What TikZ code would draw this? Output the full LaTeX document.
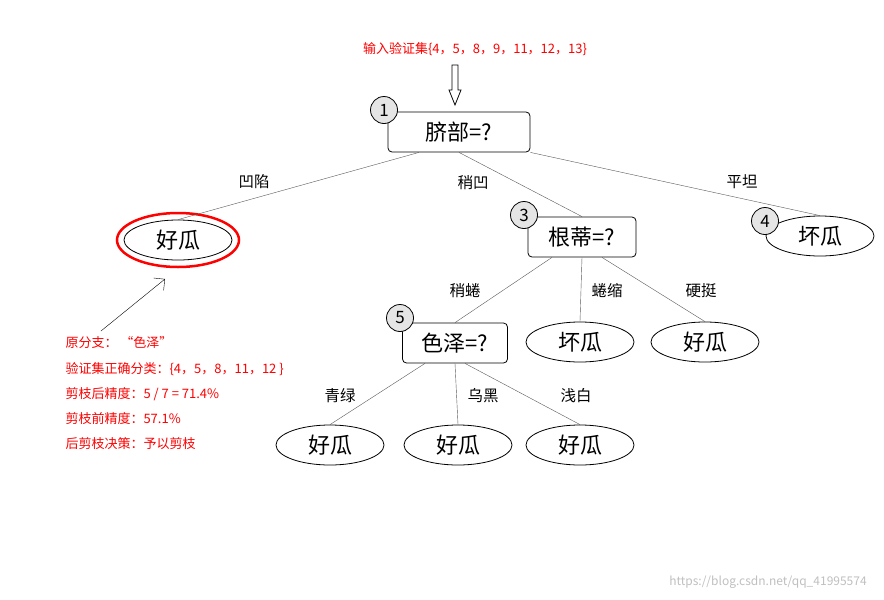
\documentclass[tikz,border=0pt]{standalone}
\usepackage{fontspec}
\setmainfont{Noto Sans CJK SC}
\usetikzlibrary{arrows.meta,shapes.geometric}
\begin{document}
\begin{tikzpicture}[x=1pt,y=-1pt,
 q/.style={draw,rounded corners=4pt,thick,minimum width=#1,minimum height=40pt,font=\fontsize{22}{24}\selectfont,inner sep=1pt},
 leaf/.style={draw,ellipse,thick,minimum width=108pt,minimum height=40pt,font=\fontsize{22}{24}\selectfont,inner sep=1pt},
 num/.style={draw,circle,fill=gray!20,thick,minimum size=27pt,inner sep=0pt,font=\fontsize{17}{18}\selectfont},
 el/.style={font=\fontsize{15.5}{17}\selectfont},
 red/.style={text=red,font=\fontsize{13}{15}\selectfont,anchor=west},
 e/.style={gray!70!black}]
\useasboundingbox (0,0) rectangle (884,600);
\node[q=142pt] (n1) at (459,132) {脐部=?};
\node[num] (c1) at (384,110) {1};
\node[leaf] (l1) at (178,240) {好瓜};
\node[draw=red,ellipse,line width=2.5pt,minimum width=122pt,minimum height=54pt] (r1) at (178,240) {};
\node[q=108pt] (n3) at (582,237) {根蒂=?};
\node[num] (c3) at (524,215) {3};
\node[leaf] (l4) at (820,236) {坏瓜};
\node[num] (c4) at (765,221) {4};
\node[q=105pt] (n5) at (455,343) {色泽=?};
\node[num] (c5) at (400,318) {5};
\node[leaf] (l6) at (580,342) {坏瓜};
\node[leaf] (l7) at (705,342) {好瓜};
\node[leaf] (l8) at (330,445) {好瓜};
\node[leaf] (l9) at (458,445) {好瓜};
\node[leaf] (l10) at (580,445) {好瓜};
\draw[e] (n1.south) ++(-40,0) coordinate (a) -- (l1.north);
\draw[e] (n1.south) -- (n3.north);
\draw[e] (n1.south east) -- (l4.north);
\draw[e] (n3.south) ++(-30,0) -- (n5.north);
\draw[e] (n3.south) -- (l6.north);
\draw[e] (n3.south) ++(20,0) -- (l7.north);
\draw[e] (n5.south) ++(-30,0) -- (l8.north);
\draw[e] (n5.south) -- (l9.north);
\draw[e] (n5.south) ++(10,0) -- (l10.north);
\node[el] (t1) at (254,182) {凹陷};
\node[el] (t2) at (473,183) {稍凹};
\node[el] (t3) at (742,182) {平坦};
\node[el] (t4) at (465,291) {稍蜷};
\node[el] (t5) at (607,291) {蜷缩};
\node[el] (t6) at (701,291) {硬挺};
\node[el] (t7) at (340,396) {青绿};
\node[el] (t8) at (483,396) {乌黑};
\node[el] (t9) at (576,396) {浅白};
\node[text=red,font=\fontsize{13}{15}\selectfont] (top) at (475,49) {输入验证集\{4，5，8，9，11，12，13\}};
\draw[red,line width=0.8pt] (452,65) -- (458,65) -- (458,90) -- (461,90) -- (455,105) -- (449,90) -- (452,90) -- cycle;
\coordinate (ann) at (101,331);
\draw[red,-{Straight Barb[length=8pt]}] (ann) -- (165,279);
\node[red] (a1) at (62,343) {原分支：\ “色泽”};
\node[red] (a2) at (62,369) {验证集正确分类：\{4，5，8，11，12 \}};
\node[red] (a3) at (62,394) {剪枝后精度：5 / 7 = 71.4\%};
\node[red] (a4) at (62,419) {剪枝前精度：57.1\%};
\node[red] (a5) at (62,444) {后剪枝决策：予以剪枝};
\node[text=gray!50,font=\fontsize{12}{14}\selectfont] (wm) at (768,582) {https://blog.csdn.net/qq\_41995574};
\end{tikzpicture}
\end{document}
